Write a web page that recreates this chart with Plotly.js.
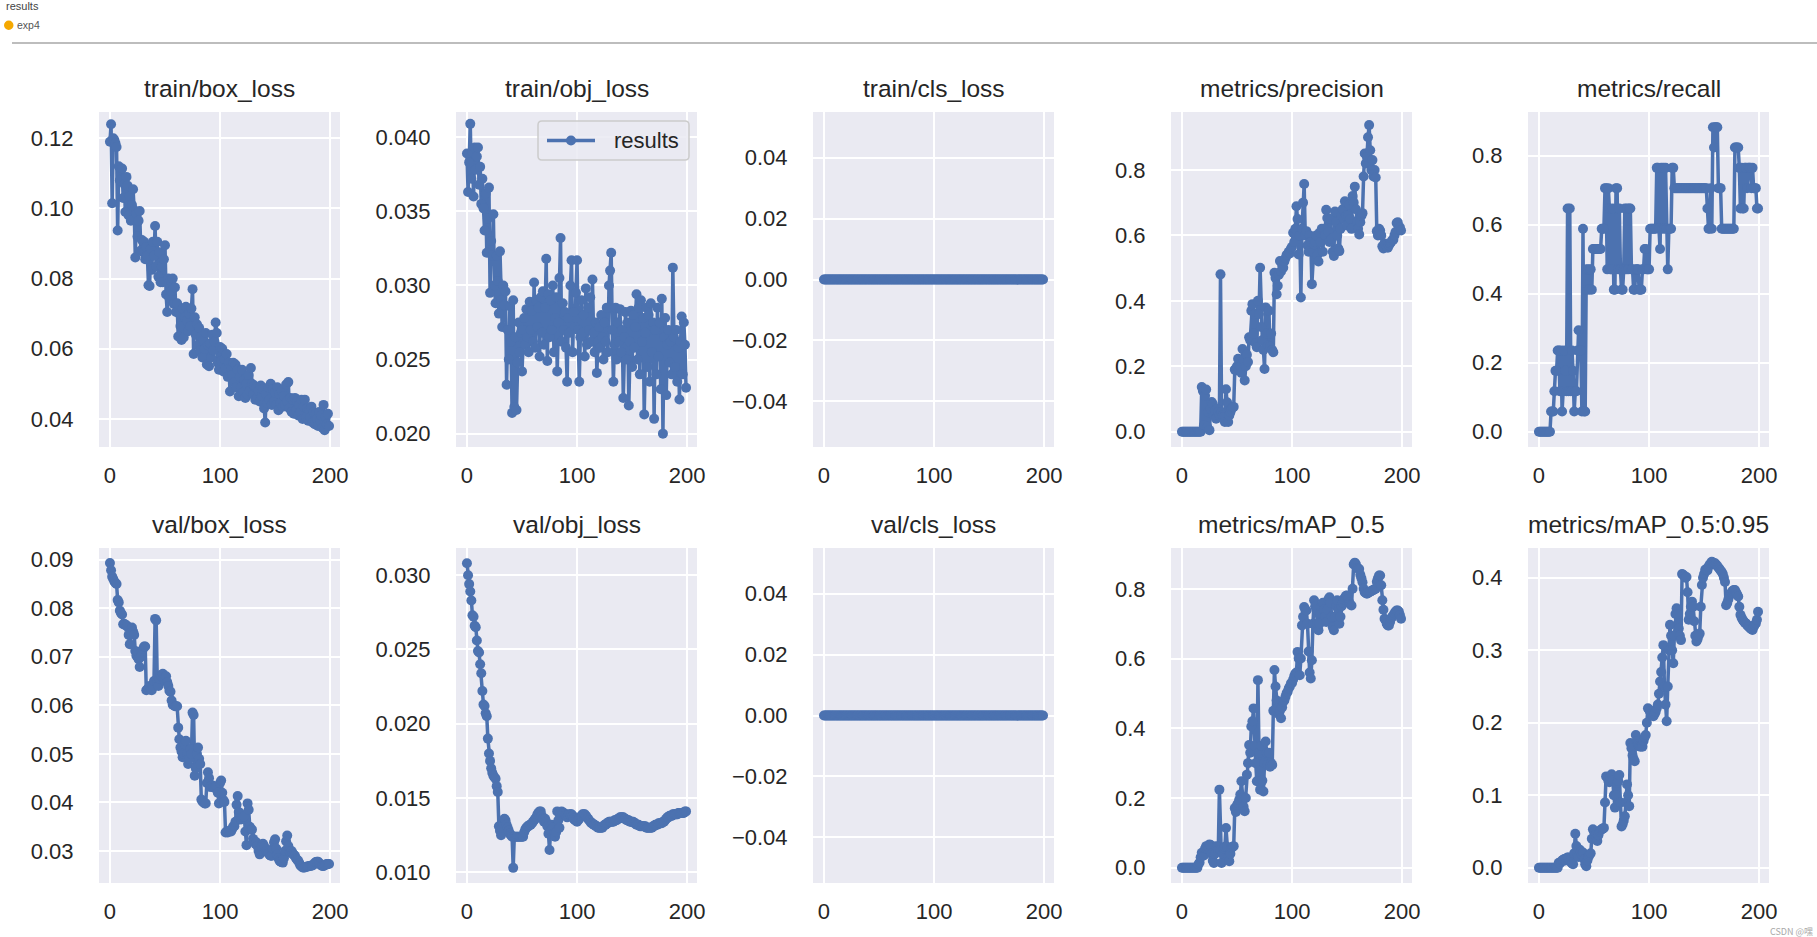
<!DOCTYPE html>
<html><head><meta charset="utf-8">
<script src="https://cdn.plot.ly/plotly-3.0.1.min.js"></script>
<style>html,body{margin:0;padding:0;background:#fff;overflow:hidden}#chart{width:1817px;height:937px}</style>
</head><body><div id="chart"></div>
<script>
const epochs = [
0,1,2,3,4,5,6,7,8,9,10,11,12,13,14,15,16,17,18,19,
20,21,22,23,24,25,26,27,28,29,30,31,32,33,34,35,36,37,38,39,
40,41,42,43,44,45,46,47,48,49,50,51,52,53,54,55,56,57,58,59,
60,61,62,63,64,65,66,67,68,69,70,71,72,73,74,75,76,77,78,79,
80,81,82,83,84,85,86,87,88,89,90,91,92,93,94,95,96,97,98,99,
100,101,102,103,104,105,106,107,108,109,110,111,112,113,114,115,116,117,118,119,
120,121,122,123,124,125,126,127,128,129,130,131,132,133,134,135,136,137,138,139,
140,141,142,143,144,145,146,147,148,149,150,151,152,153,154,155,156,157,158,159,
160,161,162,163,164,165,166,167,168,169,170,171,172,173,174,175,176,177,178,179,
180,181,182,183,184,185,186,187,188,189,190,191,192,193,194,195,196,197,198,199];

const trainBoxLoss = [
0.1190,0.1240,0.1015,0.1200,0.1195,0.1186,0.1175,0.0937,0.1120,0.1080,
0.1110,0.1114,0.1030,0.1070,0.0990,0.1090,0.1065,0.0980,0.1035,0.0965,
0.1010,0.1055,0.0995,0.0860,0.0985,0.0920,0.0965,0.0993,0.0880,0.0910,
0.0875,0.0905,0.0855,0.0890,0.0865,0.0781,0.0779,0.0885,0.0825,0.0905,
0.0865,0.0950,0.0835,0.0905,0.0805,0.0875,0.0790,0.0835,0.0790,0.0855,
0.0895,0.0755,0.0705,0.0800,0.0745,0.0795,0.0765,0.0800,0.0728,0.0775,
0.0705,0.0730,0.0635,0.0700,0.0665,0.0625,0.0715,0.0632,0.0690,0.0720,
0.0680,0.0650,0.0700,0.0665,0.0715,0.0770,0.0585,0.0690,0.0640,0.0670,
0.0610,0.0660,0.0595,0.0635,0.0575,0.0625,0.0600,0.0645,0.0555,0.0610,
0.0550,0.0615,0.0575,0.0640,0.0595,0.0620,0.0675,0.0645,0.0560,0.0540,
0.0605,0.0565,0.0600,0.0535,0.0570,0.0545,0.0585,0.0520,0.0560,0.0478,
0.0545,0.0525,0.0560,0.0505,0.0555,0.0490,0.0540,0.0465,0.0520,0.0490,
0.0540,0.0475,0.0510,0.0460,0.0500,0.0470,0.0525,0.0480,0.0545,0.0500,
0.0470,0.0495,0.0455,0.0490,0.0460,0.0480,0.0450,0.0495,0.0465,0.0485,
0.0430,0.0390,0.0470,0.0445,0.0490,0.0455,0.0500,0.0440,0.0485,0.0450,
0.0475,0.0440,0.0490,0.0425,0.0470,0.0445,0.0480,0.0435,0.0465,0.0440,
0.0498,0.0450,0.0505,0.0430,0.0460,0.0420,0.0455,0.0415,0.0460,0.0425,
0.0450,0.0410,0.0440,0.0420,0.0455,0.0400,0.0435,0.0455,0.0405,0.0430,
0.0395,0.0425,0.0405,0.0435,0.0390,0.0420,0.0385,0.0415,0.0400,0.0380,
0.0420,0.0395,0.0410,0.0375,0.0440,0.0368,0.0405,0.0385,0.0415,0.0380];

const trainObjLoss = [
0.0389,0.0363,0.0383,0.0409,0.0372,0.0390,0.0360,0.0393,0.0378,0.0387,
0.0393,0.0368,0.0380,0.0355,0.0372,0.0352,0.0337,0.0362,0.0322,0.0345,
0.0366,0.0295,0.0330,0.0320,0.0348,0.0300,0.0288,0.0320,0.0303,0.0281,
0.0323,0.0290,0.0272,0.0300,0.0287,0.0296,0.0233,0.0270,0.0250,0.0286,
0.0262,0.0214,0.0290,0.0218,0.0265,0.0216,0.0248,0.0275,0.0255,0.0268,
0.0242,0.0270,0.0278,0.0260,0.0284,0.0265,0.0255,0.0289,0.0270,0.0283,
0.0262,0.0302,0.0258,0.0290,0.0272,0.0285,0.0252,0.0292,0.0268,0.0296,
0.0260,0.0285,0.0318,0.0249,0.0294,0.0265,0.0290,0.0270,0.0300,0.0255,
0.0278,0.0292,0.0242,0.0275,0.0305,0.0332,0.0262,0.0288,0.0270,0.0282,
0.0258,0.0235,0.0278,0.0268,0.0300,0.0317,0.0255,0.0282,0.0272,0.0295,
0.0317,0.0270,0.0235,0.0265,0.0290,0.0268,0.0280,0.0252,0.0298,0.0260,
0.0285,0.0270,0.0292,0.0262,0.0304,0.0268,0.0255,0.0275,0.0241,0.0262,
0.0272,0.0258,0.0280,0.0265,0.0250,0.0275,0.0262,0.0285,0.0255,0.0300,
0.0310,0.0322,0.0270,0.0235,0.0260,0.0285,0.0250,0.0275,0.0262,0.0284,
0.0255,0.0270,0.0224,0.0265,0.0282,0.0250,0.0275,0.0219,0.0262,0.0283,
0.0245,0.0280,0.0258,0.0272,0.0294,0.0250,0.0285,0.0240,0.0290,0.0262,
0.0278,0.0213,0.0268,0.0285,0.0245,0.0280,0.0235,0.0288,0.0255,0.0275,
0.0210,0.0270,0.0240,0.0285,0.0252,0.0275,0.0230,0.0291,0.0200,0.0265,
0.0278,0.0226,0.0260,0.0270,0.0248,0.0262,0.0240,0.0312,0.0265,0.0245,
0.0270,0.0235,0.0258,0.0223,0.0262,0.0279,0.0240,0.0275,0.0260,0.0231];

const trainClsLoss = [
0,0,0,0,0,0,0,0,0,0,0,0,0,0,0,0,0,0,0,0,
0,0,0,0,0,0,0,0,0,0,0,0,0,0,0,0,0,0,0,0,
0,0,0,0,0,0,0,0,0,0,0,0,0,0,0,0,0,0,0,0,
0,0,0,0,0,0,0,0,0,0,0,0,0,0,0,0,0,0,0,0,
0,0,0,0,0,0,0,0,0,0,0,0,0,0,0,0,0,0,0,0,
0,0,0,0,0,0,0,0,0,0,0,0,0,0,0,0,0,0,0,0,
0,0,0,0,0,0,0,0,0,0,0,0,0,0,0,0,0,0,0,0,
0,0,0,0,0,0,0,0,0,0,0,0,0,0,0,0,0,0,0,0,
0,0,0,0,0,0,0,0,0,0,0,0,0,0,0,0,0,0,0,0,
0,0,0,0,0,0,0,0,0,0,0,0,0,0,0,0,0,0,0,0];

const precision = [
0,0,0,0,0,0,0,0,0,0,
0,0,0,0,0,0,0,0,0.137,0.125,
0.020,0.110,0.129,0.015,0.060,0.005,0.070,0.091,0.085,0.050,
0.065,0.040,0.070,0.060,0.050,0.481,0.060,0.050,0.045,0.030,
0.130,0.090,0.030,0.050,0.060,0.070,0.075,0.076,0.190,0.187,
0.200,0.223,0.190,0.200,0.180,0.253,0.220,0.157,0.200,0.235,
0.213,0.289,0.280,0.370,0.390,0.300,0.360,0.270,0.258,0.400,
0.360,0.501,0.320,0.280,0.250,0.192,0.380,0.300,0.263,0.370,
0.260,0.300,0.250,0.243,0.486,0.470,0.420,0.446,0.480,0.522,
0.490,0.510,0.501,0.520,0.530,0.540,0.542,0.550,0.545,0.560,
0.565,0.608,0.580,0.620,0.689,0.650,0.542,0.600,0.410,0.620,
0.700,0.757,0.600,0.613,0.570,0.550,0.600,0.580,0.451,0.550,
0.572,0.580,0.600,0.540,0.520,0.608,0.580,0.620,0.550,0.620,
0.600,0.678,0.653,0.610,0.580,0.650,0.590,0.550,0.537,0.673,
0.640,0.600,0.560,0.552,0.620,0.660,0.680,0.650,0.704,0.660,
0.630,0.660,0.694,0.650,0.620,0.720,0.700,0.749,0.680,0.640,
0.620,0.603,0.640,0.660,0.668,0.780,0.850,0.820,0.840,0.900,
0.937,0.860,0.800,0.830,0.780,0.800,0.777,0.613,0.600,0.620,
0.615,0.600,0.567,0.560,0.575,0.570,0.565,0.562,0.570,0.575,
0.580,0.585,0.587,0.600,0.610,0.638,0.640,0.618,0.625,0.615];

const recall = [
0,0,0,0,0,0,0,0,0,0,
0,0.0588,0.0588,0.0588,0.1176,0.1765,0.1765,0.2353,0.2353,0.1176,
0.2353,0.0588,0.1176,0.2353,0.1765,0.1176,0.6471,0.1176,0.6471,0.1176,
0.2353,0.1765,0.0588,0.1176,0.1176,0.2353,0.2941,0.2353,0.2353,0.0588,
0.5882,0.0588,0.0588,0.4706,0.4118,0.4706,0.4118,0.4706,0.4118,0.5294,
0.5294,0.5294,0.5294,0.5294,0.5294,0.5294,0.5294,0.5882,0.5882,0.5882,
0.7059,0.7059,0.4706,0.7059,0.6471,0.4706,0.4706,0.6471,0.4118,0.4118,
0.7059,0.7059,0.4706,0.6471,0.4706,0.4118,0.4118,0.4706,0.6471,0.4706,
0.6471,0.4706,0.6471,0.6471,0.4706,0.4706,0.4118,0.4118,0.4706,0.4706,
0.4706,0.4118,0.4118,0.4118,0.4706,0.4706,0.5294,0.5294,0.4706,0.4706,
0.4706,0.5882,0.5882,0.5882,0.5882,0.5882,0.5882,0.7647,0.7647,0.5882,
0.5294,0.7647,0.5882,0.7647,0.5882,0.7647,0.5882,0.4706,0.5882,0.5882,
0.5882,0.7647,0.7647,0.7059,0.7059,0.7059,0.7059,0.7059,0.7059,0.7059,
0.7059,0.7059,0.7059,0.7059,0.7059,0.7059,0.7059,0.7059,0.7059,0.7059,
0.7059,0.7059,0.7059,0.7059,0.7059,0.7059,0.7059,0.7059,0.7059,0.7059,
0.7059,0.7059,0.7059,0.6471,0.5882,0.5882,0.7059,0.5882,0.8824,0.8235,
0.8824,0.8824,0.8824,0.7059,0.7059,0.7059,0.5882,0.5882,0.5882,0.5882,
0.5882,0.5882,0.5882,0.5882,0.5882,0.5882,0.5882,0.5882,0.8235,0.8235,
0.8235,0.8235,0.7647,0.6471,0.7647,0.6471,0.6471,0.7647,0.7647,0.7059,
0.7647,0.7647,0.7647,0.7059,0.7647,0.7059,0.7059,0.7059,0.6471,0.6471];

const valBoxLoss = [
0.0893,0.0878,0.0865,0.0860,0.0855,0.0852,0.0850,0.0817,0.0812,0.0795,
0.0790,0.0787,0.0767,0.0768,0.0765,0.0765,0.0762,0.0745,0.0726,0.0750,
0.0760,0.0752,0.0745,0.0712,0.0702,0.0710,0.0695,0.0679,0.0700,0.0712,
0.0716,0.0721,0.0721,0.0631,0.0633,0.0635,0.0640,0.0632,0.0631,0.0640,
0.0650,0.0778,0.0775,0.0648,0.0640,0.0655,0.0662,0.0660,0.0665,0.0655,
0.0650,0.0660,0.0648,0.0640,0.0630,0.0628,0.0610,0.0601,0.0600,0.0598,
0.0598,0.0598,0.0554,0.0530,0.0513,0.0505,0.0493,0.0500,0.0520,0.0527,
0.0500,0.0479,0.0490,0.0510,0.0500,0.0585,0.0580,0.0455,0.0470,0.0500,
0.0513,0.0490,0.0479,0.0406,0.0402,0.0400,0.0398,0.0398,0.0440,0.0462,
0.0450,0.0432,0.0432,0.0435,0.0432,0.0430,0.0432,0.0432,0.0420,0.0398,
0.0440,0.0445,0.0420,0.0405,0.0401,0.0338,0.0340,0.0338,0.0340,0.0342,
0.0340,0.0345,0.0351,0.0351,0.0360,0.0395,0.0413,0.0380,0.0378,0.0365,
0.0370,0.0371,0.0371,0.0340,0.0312,0.0398,0.0385,0.0350,0.0344,0.0344,
0.0325,0.0320,0.0315,0.0318,0.0310,0.0300,0.0293,0.0300,0.0310,0.0315,
0.0310,0.0305,0.0300,0.0298,0.0295,0.0292,0.0290,0.0290,0.0305,0.0318,
0.0324,0.0305,0.0292,0.0285,0.0280,0.0278,0.0277,0.0276,0.0285,0.0300,
0.0320,0.0332,0.0310,0.0300,0.0296,0.0300,0.0295,0.0292,0.0290,0.0285,
0.0282,0.0280,0.0275,0.0270,0.0268,0.0266,0.0266,0.0266,0.0267,0.0268,
0.0268,0.0269,0.0269,0.0270,0.0270,0.0272,0.0275,0.0277,0.0278,0.0278,
0.0275,0.0272,0.0270,0.0269,0.0269,0.0270,0.0272,0.0273,0.0273,0.0273];

const valObjLoss = [
0.0308,0.0300,0.0294,0.0289,0.0283,0.0273,0.0272,0.0266,0.0265,0.0256,
0.0249,0.0248,0.0240,0.0234,0.0222,0.0213,0.0212,0.0207,0.0205,0.0190,
0.0180,0.0175,0.0170,0.0167,0.0165,0.0164,0.0163,0.0158,0.0154,0.0131,
0.0128,0.0125,0.0130,0.0133,0.0136,0.0135,0.0132,0.0130,0.0128,0.0126,
0.0125,0.0124,0.0103,0.0124,0.0124,0.0124,0.0124,0.0124,0.0124,0.0124,
0.0124,0.0124,0.0127,0.0129,0.0130,0.0131,0.0131,0.0132,0.0132,0.0133,
0.0134,0.0135,0.0136,0.0137,0.0139,0.0140,0.0141,0.0141,0.0138,0.0136,
0.0134,0.0136,0.0134,0.0131,0.0126,0.0115,0.0128,0.0132,0.0130,0.0126,
0.0124,0.0127,0.0141,0.0135,0.0130,0.0140,0.0141,0.0140,0.0140,0.0139,
0.0138,0.0137,0.0138,0.0139,0.0139,0.0139,0.0138,0.0136,0.0135,0.0135,
0.0134,0.0135,0.0136,0.0137,0.0138,0.0139,0.0139,0.0139,0.0138,0.0137,
0.0136,0.0135,0.0134,0.0133,0.0133,0.0132,0.0132,0.0131,0.0131,0.0130,
0.0130,0.0130,0.0130,0.0130,0.0131,0.0132,0.0132,0.0133,0.0133,0.0134,
0.0134,0.0134,0.0134,0.0134,0.0135,0.0135,0.0135,0.0136,0.0136,0.0137,
0.0137,0.0137,0.0137,0.0136,0.0136,0.0135,0.0135,0.0135,0.0134,0.0134,
0.0134,0.0134,0.0133,0.0133,0.0132,0.0132,0.0132,0.0131,0.0131,0.0131,
0.0131,0.0131,0.0131,0.0130,0.0130,0.0130,0.0130,0.0130,0.0130,0.0131,
0.0131,0.0132,0.0132,0.0132,0.0133,0.0133,0.0133,0.0133,0.0134,0.0134,
0.0135,0.0136,0.0137,0.0137,0.0138,0.0138,0.0138,0.0139,0.0139,0.0139,
0.0139,0.0139,0.0140,0.0140,0.0140,0.0140,0.0140,0.0140,0.0141,0.0141];

const valClsLoss = [
0,0,0,0,0,0,0,0,0,0,0,0,0,0,0,0,0,0,0,0,
0,0,0,0,0,0,0,0,0,0,0,0,0,0,0,0,0,0,0,0,
0,0,0,0,0,0,0,0,0,0,0,0,0,0,0,0,0,0,0,0,
0,0,0,0,0,0,0,0,0,0,0,0,0,0,0,0,0,0,0,0,
0,0,0,0,0,0,0,0,0,0,0,0,0,0,0,0,0,0,0,0,
0,0,0,0,0,0,0,0,0,0,0,0,0,0,0,0,0,0,0,0,
0,0,0,0,0,0,0,0,0,0,0,0,0,0,0,0,0,0,0,0,
0,0,0,0,0,0,0,0,0,0,0,0,0,0,0,0,0,0,0,0,
0,0,0,0,0,0,0,0,0,0,0,0,0,0,0,0,0,0,0,0,
0,0,0,0,0,0,0,0,0,0,0,0,0,0,0,0,0,0,0,0];

const mAP50 = [
0,0,0,0,0,0,0,0,0,0,
0,0,0,0,0,0.010,0.015,0.030,0.043,0.040,
0.035,0.055,0.062,0.055,0.060,0.067,0.065,0.040,0.020,0.014,
0.040,0.062,0.060,0.050,0.224,0.050,0.014,0.040,0.055,0.060,
0.114,0.060,0.030,0.019,0.040,0.057,0.060,0.062,0.171,0.160,
0.180,0.185,0.195,0.210,0.248,0.200,0.175,0.162,0.200,0.267,
0.300,0.352,0.330,0.405,0.420,0.457,0.350,0.300,0.248,0.538,
0.330,0.224,0.350,0.250,0.219,0.300,0.362,0.330,0.295,0.330,
0.290,0.300,0.295,0.450,0.567,0.520,0.480,0.457,0.440,0.450,
0.429,0.460,0.476,0.480,0.490,0.500,0.505,0.515,0.520,0.529,
0.530,0.540,0.550,0.557,0.560,0.619,0.600,0.552,0.600,0.695,
0.720,0.748,0.740,0.738,0.700,0.620,0.560,0.543,0.595,0.700,
0.767,0.750,0.740,0.700,0.681,0.700,0.730,0.748,0.760,0.740,
0.720,0.705,0.740,0.770,0.776,0.760,0.720,0.690,0.681,0.720,
0.750,0.767,0.740,0.700,0.720,0.750,0.760,0.770,0.775,0.780,
0.781,0.770,0.760,0.755,0.752,0.800,0.870,0.875,0.870,0.860,
0.858,0.857,0.840,0.830,0.819,0.800,0.790,0.788,0.786,0.788,
0.790,0.792,0.794,0.795,0.797,0.799,0.800,0.820,0.830,0.838,
0.838,0.810,0.767,0.740,0.714,0.710,0.700,0.695,0.695,0.705,
0.715,0.720,0.724,0.730,0.735,0.738,0.738,0.735,0.725,0.714];

const mAP5095 = [
0,0,0,0,0,0,0,0,0,0,
0,0,0,0,0,0,0,0,0.007,0.006,
0.008,0.010,0.011,0.012,0.010,0.013,0.014,0.014,0.010,0.008,
0.006,0.005,0.020,0.047,0.030,0.020,0.015,0.025,0.022,0.018,
0.021,0.012,0.005,0.002,0.010,0.015,0.018,0.020,0.040,0.053,
0.050,0.045,0.040,0.037,0.045,0.050,0.052,0.053,0.054,0.055,
0.090,0.126,0.125,0.120,0.118,0.125,0.129,0.120,0.100,0.083,
0.100,0.117,0.120,0.128,0.090,0.057,0.060,0.065,0.071,0.090,
0.115,0.100,0.085,0.172,0.165,0.155,0.150,0.147,0.183,0.175,
0.170,0.168,0.167,0.168,0.167,0.175,0.180,0.183,0.200,0.220,
0.218,0.215,0.212,0.210,0.209,0.212,0.215,0.220,0.225,0.240,
0.257,0.270,0.290,0.307,0.250,0.225,0.202,0.250,0.300,0.335,
0.320,0.300,0.282,0.320,0.350,0.358,0.350,0.330,0.320,0.314,
0.405,0.404,0.402,0.400,0.401,0.380,0.342,0.350,0.360,0.367,
0.360,0.340,0.320,0.312,0.315,0.320,0.323,0.360,0.390,0.400,
0.405,0.411,0.412,0.410,0.415,0.418,0.420,0.422,0.421,0.420,
0.420,0.418,0.416,0.414,0.412,0.410,0.408,0.405,0.400,0.394,
0.362,0.365,0.370,0.375,0.378,0.380,0.382,0.383,0.383,0.380,
0.377,0.374,0.360,0.349,0.345,0.342,0.340,0.338,0.337,0.335,
0.333,0.332,0.330,0.329,0.328,0.332,0.335,0.337,0.342,0.353];

const panelTitles = ['train/box_loss','train/obj_loss','train/cls_loss','metrics/precision','metrics/recall',
  'val/box_loss','val/obj_loss','val/cls_loss','metrics/mAP_0.5','metrics/mAP_0.5:0.95'];
const xTickVals = [0,100,200];
const yTickVals = [
  [0.04,0.06,0.08,0.10,0.12],[0.020,0.025,0.030,0.035,0.040],[-0.04,-0.02,0,0.02,0.04],
  [0,0.2,0.4,0.6,0.8],[0,0.2,0.4,0.6,0.8],
  [0.03,0.04,0.05,0.06,0.07,0.08,0.09],[0.010,0.015,0.020,0.025,0.030],[-0.04,-0.02,0,0.02,0.04],
  [0,0.2,0.4,0.6,0.8],[0,0.1,0.2,0.3,0.4]];
const legendLabel = 'results';

const series = [trainBoxLoss,trainObjLoss,trainClsLoss,precision,recall,valBoxLoss,valObjLoss,valClsLoss,mAP50,mAP5095];

// ---- layout / style (not data) ----
const W=1817,H=937;
const colLeft=[99,456,813,1171,1528], colW=241;
const rowTop=[112,548], rowH=335;
const yRanges=[[0.032,0.1275],[0.0191,0.0417],[-0.055,0.055],[-0.0465,0.977],[-0.0441,0.9265],
  [0.0234,0.0924],[0.00928,0.03183],[-0.055,0.055],[-0.0437,0.917],[-0.021,0.441]];
const yFormats=['.2f','.3f','.2f','.1f','.1f','.2f','.3f','.2f','.1f','.1f'];
const BLUE='#4C72B0', TXT='#262626', FONT='Liberation Sans, Arial, sans-serif';
const px=x=>x/W, py=y=>1-y/H;

const traces = series.map((ys,i)=>({
  type:'scatter', mode:'lines+markers', x:epochs, y:ys,
  xaxis: i===0?'x':'x'+(i+1), yaxis: i===0?'y':'y'+(i+1),
  name:legendLabel, showlegend:false,
  line:{color:BLUE,width:3.5}, marker:{color:BLUE,size:10},
  hoverinfo:'skip'
}));

const layout = {
  width:W, height:H, margin:{l:0,r:0,t:0,b:0},
  paper_bgcolor:'#ffffff', plot_bgcolor:'#EAEAF2',
  font:{family:FONT,color:TXT},
  showlegend:false,
  annotations:[], shapes:[]
};

for(let i=0;i<10;i++){
  const r=Math.floor(i/5), c=i%5, s=i===0?'':String(i+1);
  layout['xaxis'+s]={domain:[px(colLeft[c]),px(colLeft[c]+colW)], anchor:'y'+s,
    range:[-9.95,208.95], tickmode:'array', tickvals:xTickVals,
    showgrid:true, gridcolor:'#ffffff', gridwidth:2, zeroline:false, showline:false,
    ticks:'outside', ticklen:9, tickcolor:'rgba(0,0,0,0)',
    tickfont:{family:FONT,size:22,color:TXT}, fixedrange:true};
  layout['yaxis'+s]={domain:[py(rowTop[r]+rowH),py(rowTop[r])], anchor:'x'+s,
    range:yRanges[i], tickmode:'array', tickvals:yTickVals[i], tickformat:yFormats[i],
    showgrid:true, gridcolor:'#ffffff', gridwidth:2, zeroline:false, showline:false,
    ticks:'outside', ticklen:20, tickcolor:'rgba(0,0,0,0)',
    tickfont:{family:FONT,size:22,color:TXT}, fixedrange:true};
  layout.annotations.push({text:panelTitles[i], xref:'paper', yref:'paper',
    x:px(colLeft[c]+colW/2), y:py(r===0?88:524), xanchor:'center', yanchor:'middle',
    showarrow:false, font:{family:FONT,size:24.5,color:TXT}});
}

// custom legend (matplotlib style) inside train/obj_loss panel
function roundRect(x0,y0,x1,y1,r){
  const a=px(x0),b=px(x1),t=py(y0),u=py(y1),rx=r/W,ry=r/H;
  return `M${a+rx},${t} L${b-rx},${t} Q${b},${t} ${b},${t-ry} L${b},${u+ry} Q${b},${u} ${b-rx},${u} `+
         `L${a+rx},${u} Q${a},${u} ${a},${u+ry} L${a},${t-ry} Q${a},${t} ${a+rx},${t} Z`;
}
layout.shapes.push({type:'path', xref:'paper', yref:'paper', path:roundRect(538,121,689,160,4),
  fillcolor:'rgba(234,234,242,0.85)', line:{color:'#CCCCCC',width:1.5}});
layout.shapes.push({type:'line', xref:'paper', yref:'paper', x0:px(547), x1:px(595), y0:py(140.5), y1:py(140.5),
  line:{color:BLUE,width:3.5}});
layout.shapes.push({type:'circle', xref:'paper', yref:'paper', x0:px(566), x1:px(576), y0:py(145.5), y1:py(135.5),
  fillcolor:BLUE, line:{width:0}});
layout.annotations.push({text:legendLabel, xref:'paper', yref:'paper', x:px(612), y:py(140.5),
  xanchor:'left', yanchor:'middle', showarrow:false, font:{family:FONT,size:22,color:TXT}});

// page header
layout.annotations.push({text:'results', xref:'paper', yref:'paper', x:px(4), y:py(6),
  xanchor:'left', yanchor:'middle', showarrow:false, font:{family:FONT,size:11,color:'#444444'}});
layout.annotations.push({text:'exp4', xref:'paper', yref:'paper', x:px(15), y:py(25),
  xanchor:'left', yanchor:'middle', showarrow:false, font:{family:FONT,size:10.5,color:'#555555'}});
layout.shapes.push({type:'circle', xref:'paper', yref:'paper', x0:px(4), x1:px(13.5), y0:py(30), y1:py(20.5),
  fillcolor:'#F5A800', line:{width:0}});
layout.shapes.push({type:'line', xref:'paper', yref:'paper', x0:px(12), x1:1, y0:py(43), y1:py(43),
  line:{color:'#BDBDBD', width:2}});
// watermark
layout.annotations.push({text:'CSDN @嘿', xref:'paper', yref:'paper', x:px(1815), y:py(931),
  xanchor:'right', yanchor:'middle', showarrow:false, font:{family:'Noto Sans CJK SC, sans-serif',size:9,color:'#A8A8A8'}});

Plotly.newPlot('chart', traces, layout, {displayModeBar:false, staticPlot:true});
</script>
</body></html>
